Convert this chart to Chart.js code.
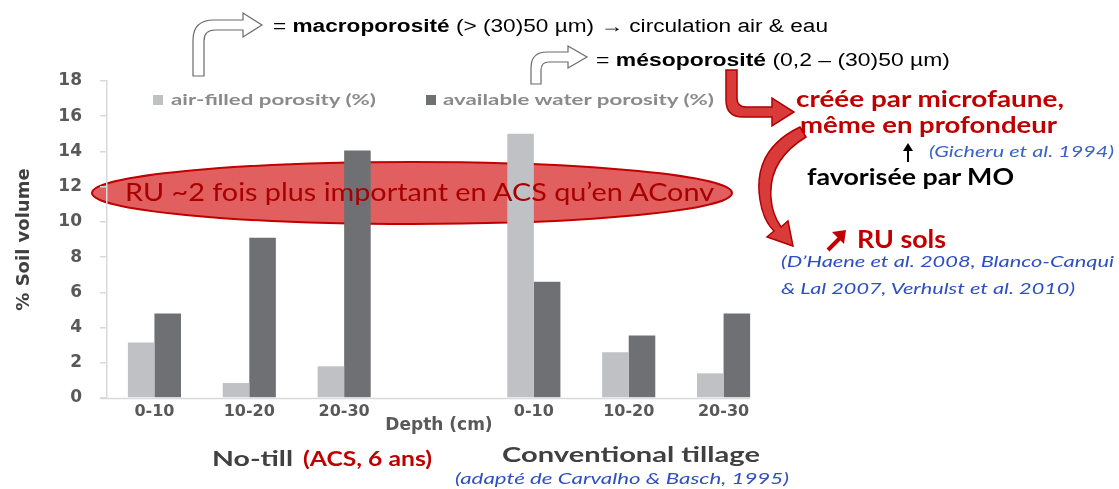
<!DOCTYPE html>
<html>
<head>
<meta charset="utf-8">
<script src="https://cdn.jsdelivr.net/npm/chart.js@4.4.1/dist/chart.umd.min.js"></script>
<style>
  html, body { margin: 0; padding: 0; background: #fff; }
  #stage { position: relative; width: 1119px; height: 489px; overflow: hidden; }
  #under, #over { position: absolute; left: 0; top: 0; }
  #under { z-index: 0; }
  #chartBox { position: absolute; left: 0; top: 0; width: 880px; height: 489px; z-index: 1; }
  #over { z-index: 2; pointer-events: none; }
  .cal { font-family: Lato, "Open Sans", sans-serif; }
  .ari { font-family: "Liberation Sans", Arial, sans-serif; }
</style>
</head>
<body>
<div id="stage">
  <!-- ellipse sits behind the bars -->
  <svg id="under" width="1119" height="489">
    <ellipse cx="412" cy="193" rx="320" ry="31" fill="#e15f5f" stroke="#c00000" stroke-width="2"/>
  </svg>
  <div id="chartBox"><canvas id="chartSoil" width="880" height="489"></canvas></div>
  <svg id="over" width="1119" height="489">
    <!-- white bent arrows -->
    <path d="M193,76 L193,40 Q193,20 214,20 L243,20 L243,13 L262,25 L243,37 L243,30 L215,30 Q204,30 204,41 L204,76 Z"
          fill="#fff" stroke="#6a6a6a" stroke-width="1.2"/>
    <path d="M531,84 L531,68 Q531,52 547,52 L568,52 L568,46 L587,57 L568,68 L568,62 L549,62 Q541,62 541,70 L541,84 Z"
          fill="#fff" stroke="#6a6a6a" stroke-width="1.2"/>
    <text class="ari" x="273" y="32" font-size="18" fill="#000" textLength="555" lengthAdjust="spacingAndGlyphs">= <tspan font-weight="bold">macroporosité</tspan> (&gt; (30)50 µm) → circulation air &amp; eau</text>
    <text class="ari" x="596" y="66" font-size="18" fill="#000" textLength="354" lengthAdjust="spacingAndGlyphs">= <tspan font-weight="bold">mésoporosité</tspan> (0,2 – (30)50 µm)</text>

    <!-- red arrows -->
    <path d="M726,70 L726,100 Q726,117 743,117 L772,117 L772,126 L794,112 L772,98 L772,107 L746,107 Q737,107 737,98 L737,70 Z"
          fill="#d93a3a" stroke="#b00000" stroke-width="1.5"/>
    <path d="M800,127 Q752,150 760,200 Q763,220 774,231 L767,237 L793,246 L788,221 L781,227 Q772,214 771,198 Q768,160 806,137 Z"
          fill="#d93a3a" stroke="#b00000" stroke-width="1.5"/>

    <!-- ellipse text -->
    <text class="cal" x="125" y="201" font-size="25" fill="#a80000" textLength="589" lengthAdjust="spacingAndGlyphs">RU ~2 fois plus important en ACS qu’en AConv</text>

    <!-- right annotations -->
    <text class="cal" x="796" y="107" font-size="22" font-weight="bold" fill="#c00000" textLength="268" lengthAdjust="spacingAndGlyphs">créée par microfaune,</text>
    <text class="cal" x="800" y="133" font-size="22" font-weight="bold" fill="#c00000" textLength="257" lengthAdjust="spacingAndGlyphs">même en profondeur</text>
    <path d="M908,162 L908,150" stroke="#000" stroke-width="2"/>
    <path d="M903,151 L908,143 L913,151 Z" fill="#000"/>
    <text class="cal" x="929" y="157" font-size="16" font-style="italic" fill="#3a63c4" textLength="185" lengthAdjust="spacingAndGlyphs">(Gicheru et al. 1994)</text>
    <text class="cal" x="807" y="185" font-size="22" font-weight="bold" fill="#000" textLength="207" lengthAdjust="spacingAndGlyphs">favorisée par MO</text>
    <path d="M828,250 L840,238" stroke="#c00000" stroke-width="4"/>
    <path d="M832,232 L846,230 L844,244 Z" fill="#c00000"/>
    <text class="cal" x="857" y="248" font-size="24" font-weight="bold" fill="#c00000" textLength="89" lengthAdjust="spacingAndGlyphs">RU sols</text>
    <text class="cal" x="781" y="267" font-size="16" font-style="italic" fill="#2e4fc0" textLength="333" lengthAdjust="spacingAndGlyphs">(D’Haene et al. 2008, Blanco-Canqui</text>
    <text class="cal" x="781" y="294" font-size="16" font-style="italic" fill="#2e4fc0" textLength="294" lengthAdjust="spacingAndGlyphs">&amp; Lal 2007, Verhulst et al. 2010)</text>

    <!-- bottom group labels -->
    <text class="cal" x="212" y="466" font-size="21" font-weight="bold" fill="#404040" textLength="81" lengthAdjust="spacingAndGlyphs">No-till</text>
    <text class="cal" x="303" y="466" font-size="21" font-weight="bold" fill="#c00000" textLength="129" lengthAdjust="spacingAndGlyphs">(ACS, 6 ans)</text>
    <text class="cal" x="502" y="462" font-size="21" font-weight="bold" fill="#404040" textLength="258" lengthAdjust="spacingAndGlyphs">Conventional tillage</text>
    <text class="cal" x="455" y="484" font-size="16" font-style="italic" fill="#2e4fc0" textLength="334" lengthAdjust="spacingAndGlyphs">(adapté de Carvalho &amp; Basch, 1995)</text>

    <g id="legendLayer"></g>
  </svg>
</div>

<script>
// ── data ─────────────────────────────────────────────────────────────────────
const depthLabels   = ['0-10', '10-20', '20-30', '', '0-10', '10-20', '20-30'];
const airFilled     = [3.15, 0.85, 1.8, null, 15.0, 2.6, 1.4];
const availWater    = [4.8, 9.1, 14.05, null, 6.6, 3.55, 4.8];
const seriesNames   = ['air-filled porosity (%)', 'available water porosity (%)'];
const yTicks        = [0, 2, 4, 6, 8, 10, 12, 14, 16, 18];

const LIGHT = '#bfc1c4';
const DARK  = '#6e7073';
const AXIS  = '#d9d9d9';
const TXT   = '#595959';

// x axis baseline only runs to the end of the last bar, like the original
const baseline = {
  id: 'baseline',
  afterDatasetsDraw(chart) {
    const { ctx, chartArea } = chart;
    const meta = chart.getDatasetMeta(1);
    const last = meta.data[meta.data.length - 1];
    if (!last) return;
    const right = last.x + last.width / 2;
    ctx.save();
    ctx.strokeStyle = AXIS;
    ctx.lineWidth = 1.5;
    ctx.beginPath();
    ctx.moveTo(chartArea.left - 7, chartArea.bottom + 0.5);
    ctx.lineTo(right, chartArea.bottom + 0.5);
    ctx.stroke();
    ctx.restore();
  }
};

const chart = new Chart(document.getElementById('chartSoil'), {
  type: 'bar',
  data: {
    labels: depthLabels,
    datasets: [
      { label: seriesNames[0], data: airFilled,  backgroundColor: LIGHT },
      { label: seriesNames[1], data: availWater, backgroundColor: DARK },
    ],
  },
  options: {
    responsive: false,
    devicePixelRatio: 1,
    animation: false,
    categoryPercentage: 0.56,
    barPercentage: 1.0,
    layout: { padding: { top: 81, left: 0, right: 109, bottom: 41 } },
    plugins: {
      legend: { display: false },
      tooltip: { enabled: false },
    },
    scales: {
      x: {
        afterFit: s => { s.height = 50; },
        grid: { display: false, drawTicks: false },
        border: { display: false },
        ticks: { color: TXT, padding: 4, font: { family: 'DejaVu Sans', weight: 'bold', size: 16 } },
        title: {
          display: true, text: 'Depth (cm)', color: TXT,
          font: { family: 'DejaVu Sans', weight: 'bold', size: 17 },
          padding: { top: 0, bottom: 12 },
        },
      },
      y: {
        min: 0, max: 18,
        afterFit: s => { s.width = 107; },
        afterBuildTicks: s => { s.ticks = yTicks.map(v => ({ value: v })); },
        grid: { drawOnChartArea: false, drawTicks: true, tickLength: 7, color: AXIS, lineWidth: 1.5 },
        border: { display: true, color: AXIS, width: 1.5 },
        ticks: { color: TXT, padding: 18, font: { family: 'DejaVu Sans', weight: 'bold', size: 17 } },
        title: {
          display: true, text: '% Soil volume', color: '#404040',
          font: { family: 'DejaVu Sans', weight: 'bold', size: 18 },
          padding: { top: 14, bottom: 0 },
        },
      },
    },
  },
  plugins: [baseline],
});

// legend drawn as svg text from the chart's own datasets
const legendSpots = [
  { box: 153, text: 171, len: 205 },
  { box: 426, text: 443, len: 271 },
];
const NS = 'http://www.w3.org/2000/svg';
const layer = document.getElementById('legendLayer');
chart.data.datasets.forEach((ds, i) => {
  const p = legendSpots[i];
  const r = document.createElementNS(NS, 'rect');
  r.setAttribute('x', p.box); r.setAttribute('y', 95);
  r.setAttribute('width', 10); r.setAttribute('height', 10);
  r.setAttribute('fill', ds.backgroundColor);
  layer.appendChild(r);
  const t = document.createElementNS(NS, 'text');
  t.setAttribute('x', p.text); t.setAttribute('y', 105);
  t.setAttribute('class', 'cal');
  t.setAttribute('font-size', 15);
  t.setAttribute('font-weight', 'bold');
  t.setAttribute('fill', '#8a8a8a');
  t.setAttribute('textLength', p.len);
  t.setAttribute('lengthAdjust', 'spacingAndGlyphs');
  t.textContent = ds.label;
  layer.appendChild(t);
});
</script>
</body>
</html>
